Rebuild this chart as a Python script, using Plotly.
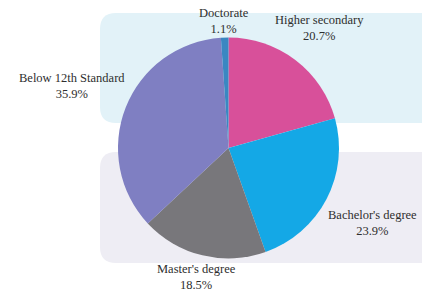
import math
import plotly.graph_objects as go

categories = ["Higher secondary", "Bachelor's degree", "Master's degree", "Below 12th Standard", "Doctorate"]
shares = [20.7, 23.9, 18.5, 35.9, 1.1]
colors = ["#d8509a", "#14a8e6", "#78777b", "#7f7fc2", "#3a87c2"]

W, H = 422, 293
CX, CY, R = 228.5, 148.0, 110.5   # pie centre / radius in pixels (y down)
FONT = "Liberation Serif"
FSIZE = 12.5
CHAR_W = 5.6     # approx. px per character for label-box estimate
LINE_H = 24      # approx. label-box height (two lines)
GAP = 4
EDGE = 16.5      # keep label centres this far from the bottom edge

def rounded_rect(x0, y0, x1, y1, r):
    def p(x, y):
        return f"{x / W:.5f},{1 - y / H:.5f}"
    return (f"M {p(x0 + r, y0)} L {p(x1, y0)} L {p(x1, y1)} L {p(x0 + r, y1)} "
            f"Q {p(x0, y1)} {p(x0, y1 - r)} L {p(x0, y0 + r)} Q {p(x0, y0)} {p(x0 + r, y0)} Z")

fig = go.Figure(go.Pie(
    labels=categories,
    values=shares,
    sort=False,
    direction="clockwise",
    rotation=0,
    marker=dict(colors=colors, line=dict(width=0)),
    textinfo="none",
    showlegend=False,
    hoverinfo="label+value",
    domain=dict(x=[(CX - R) / W, (CX + R) / W],
                y=[(H - CY - R) / H, (H - CY + R) / H]),
))

# outside labels, placed radially at each slice's mid-angle
total = sum(shares)
cum = 0.0
annotations = []
for lab, v in zip(categories, shares):
    mid = (cum + v / 2) / total * 2 * math.pi
    cum += v
    ux, uy = math.sin(mid), -math.cos(mid)
    text = f"{lab}<br>{v:.1f}%"
    bw = max(len(lab), 5) * CHAR_W
    half = abs(ux) * bw / 2 + abs(uy) * LINE_H / 2
    d = R + GAP + half
    px, py = CX + ux * d, CY + uy * d
    py = min(py, H - EDGE)
    annotations.append(dict(
        x=px / W, y=1 - py / H, xref="paper", yref="paper",
        text=text, showarrow=False, xanchor="center", yanchor="middle",
        align="center", font=dict(family=FONT, size=FSIZE, color="#2e2e2e"),
    ))

fig.update_layout(
    width=W, height=H,
    margin=dict(l=0, r=0, t=0, b=0),
    paper_bgcolor="white",
    plot_bgcolor="white",
    annotations=annotations,
    shapes=[
        dict(type="path", xref="paper", yref="paper", layer="below",
             path=rounded_rect(100, 13, 440, 123, 16), fillcolor="#e2f2f8", line=dict(width=0)),
        dict(type="path", xref="paper", yref="paper", layer="below",
             path=rounded_rect(100, 152, 440, 263, 16), fillcolor="#eeedf4", line=dict(width=0)),
    ],
)

fig.write_html("out.html", config={"displayModeBar": False},
               post_script="document.body.style.margin='0';document.body.style.overflow='hidden';")
